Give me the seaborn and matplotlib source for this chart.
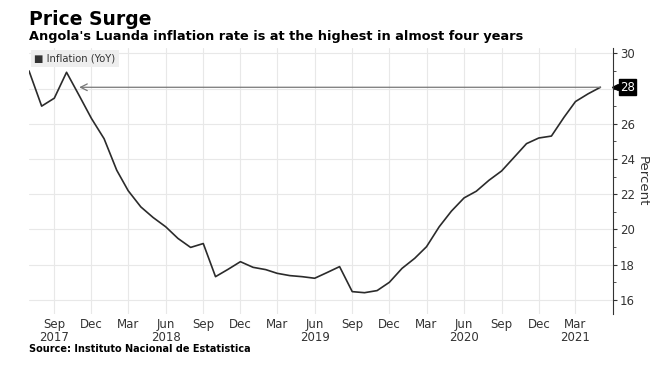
import pandas as pd
import seaborn as sns
import matplotlib.pyplot as plt
import matplotlib.transforms as mtransforms
from matplotlib.ticker import MultipleLocator, FuncFormatter

# Luanda CPI, YoY %, monthly from Jul 2017 to May 2021
months = pd.date_range('2017-07-01', '2021-05-01', freq='MS')
inflation = [29.0, 27.0, 27.45, 28.92, 27.6, 26.3, 25.15, 23.36, 22.2, 21.28,
             20.68, 20.15, 19.49, 18.98, 19.2, 17.32, 17.74, 18.17, 17.85, 17.72,
             17.51, 17.38, 17.32, 17.23, 17.55, 17.89, 16.47, 16.41, 16.53, 17.0,
             17.79, 18.36, 19.02, 20.15, 21.04, 21.79, 22.17, 22.79, 23.32, 24.08,
             24.87, 25.19, 25.30, 26.37, 27.26, 27.70, 28.07]

tick_dates = pd.date_range('2017-09-01', '2021-03-01', freq='3MS')
tick_labels = ['Sep\n2017', 'Dec', 'Mar', 'Jun\n2018', 'Sep', 'Dec', 'Mar', 'Jun\n2019',
               'Sep', 'Dec', 'Mar', 'Jun\n2020', 'Sep', 'Dec', 'Mar\n2021']

df = pd.DataFrame({'date': months, 'Inflation (YoY)': inflation})

sns.set_style('white')
plt.rcParams['font.family'] = ['DejaVu Sans']

fig = plt.figure(figsize=(6.56, 3.74), dpi=100)
ax = fig.add_axes([0.0442, 0.1604, 0.8903, 0.7113])

sns.lineplot(data=df, x='date', y='Inflation (YoY)', ax=ax, color='#2b2b2b', linewidth=1.2)

ax.set_xlim(pd.Timestamp('2017-07-01'), pd.Timestamp('2021-06-01'))
ax.set_ylim(15.2, 30.3)

# x axis
ax.set_xticks(tick_dates)
ax.set_xticklabels(tick_labels, fontsize=8.5, color='#333333', linespacing=1.0)
ax.tick_params(axis='x', length=0, pad=3)

# y axis on the right; the 28 tick is covered by the last-value tag
ax.yaxis.tick_right()
ax.yaxis.set_label_position('right')
ax.yaxis.set_major_locator(MultipleLocator(2))
ax.yaxis.set_minor_locator(MultipleLocator(1))
ax.yaxis.set_major_formatter(FuncFormatter(lambda v, p: '' if round(v) == 28 else f'{v:.0f}'))
ax.tick_params(axis='y', which='major', length=3, width=0.8, color='#333333',
               labelsize=8.5, labelcolor='#333333', pad=2)
ax.tick_params(axis='y', which='minor', length=2, width=0.6, color='#333333')
ax.set_ylabel('Percent', rotation=270, labelpad=10, fontsize=9.5, color='#333333')
ax.set_xlabel('')

for side in ['top', 'left', 'bottom']:
    ax.spines[side].set_visible(False)
ax.spines['right'].set_color('#333333')
ax.spines['right'].set_linewidth(0.8)

ax.grid(True, which='major', color='#e8e8e8', linewidth=0.8)
ax.set_axisbelow(True)

# arrow back to the last time inflation was this high
last_date, last_val = months[-1], inflation[-1]
ax.annotate('', xy=(pd.Timestamp('2017-11-01'), last_val), xytext=(last_date, last_val),
            arrowprops=dict(arrowstyle='->', color='#777777', lw=0.9,
                            shrinkA=0, shrinkB=0, mutation_scale=12))

# last value tag
trans = mtransforms.blended_transform_factory(ax.transAxes, ax.transData)
ax.plot([1.004], [last_val], marker='<', markersize=5, color='black',
        transform=trans, clip_on=False)
ax.text(1.012, last_val, '28', transform=trans, fontsize=8.5, color='white',
        va='center', ha='left',
        bbox=dict(boxstyle='square,pad=0.12', facecolor='black', edgecolor='black'))

# legend box
fig.text(0.052, 0.843, '\u25a0 Inflation (YoY)', fontsize=7.2, color='#333333',
         va='center', ha='left',
         bbox=dict(boxstyle='square,pad=0.35', facecolor='#eeeeee', edgecolor='none'))

# titles and source
fig.text(0.044, 0.949, 'Price Surge', fontsize=13.5, fontweight='bold', va='center', color='black')
fig.text(0.044, 0.902, "Angola's Luanda inflation rate is at the highest in almost four years",
         fontsize=9.3, fontweight='bold', va='center', color='black')
fig.text(0.044, 0.067, 'Source: Instituto Nacional de Estatistica', fontsize=7,
         fontweight='bold', va='center', color='black')

fig.savefig('out.png', dpi=100)
